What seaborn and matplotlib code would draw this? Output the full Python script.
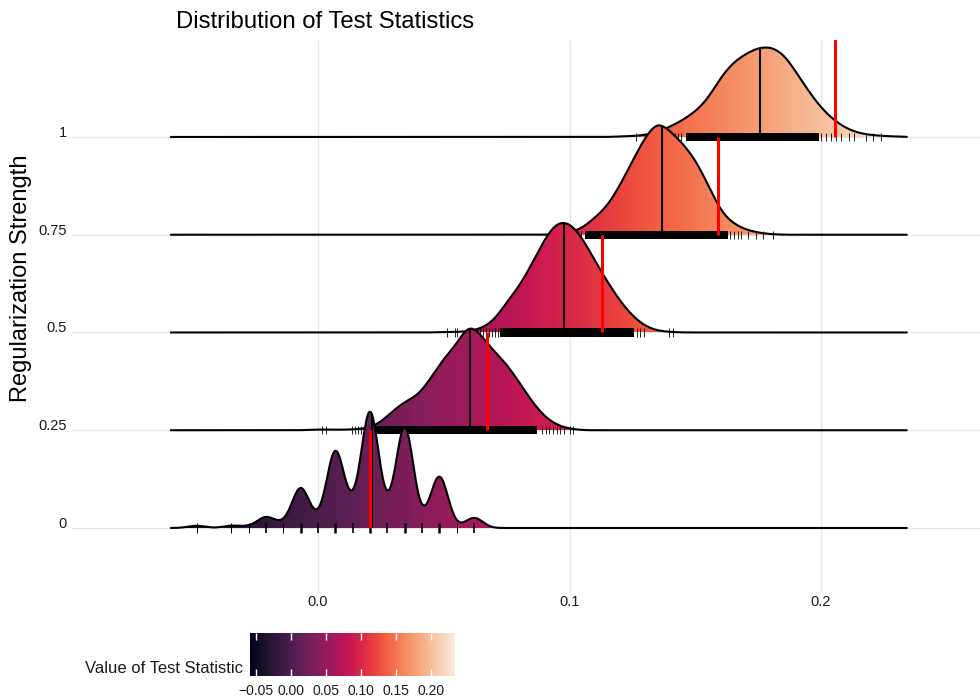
import matplotlib.pyplot as plt
import numpy as np
import seaborn as sns
from matplotlib.cm import ScalarMappable
from matplotlib.colors import Normalize

sns.set_theme(style="white")
plt.rcParams["font.family"] = ["Liberation Sans", "DejaVu Sans"]

# regularization strengths (one ridge each)
lambdas = [0, 0.25, 0.5, 0.75, 1]
lambda_labels = ["0", "0.25", "0.5", "0.75", "1"]

# lambda = 0: the statistic only takes a few discrete values
vals_0 = [-0.0483, -0.0345, -0.0276, -0.0207, -0.0138, -0.0069, 0.0, 0.0069,
          0.0138, 0.0207, 0.0276, 0.0345, 0.0414, 0.0483, 0.0552, 0.0621]
freq_0 = [5, 5, 3, 24, 8, 89, 12, 171, 33, 259, 24, 226, 11, 116, 1, 23]

# other lambdas: binned samples (bin centre, relative frequency)
vals_25 = [0.000, 0.005, 0.010, 0.015, 0.020, 0.025, 0.030, 0.035, 0.040, 0.045, 0.050,
           0.055, 0.060, 0.065, 0.070, 0.075, 0.080, 0.085, 0.090, 0.095, 0.100]
freq_25 = [1, 0.5, 0.5, 1, 2, 8, 21, 31, 36, 55, 76, 88, 115, 99, 82, 70, 50, 30, 14, 5, 1.5]

vals_50 = [0.050, 0.055, 0.060, 0.065, 0.070, 0.075, 0.080, 0.085, 0.090, 0.095,
           0.100, 0.105, 0.110, 0.115, 0.120, 0.125, 0.130, 0.135, 0.140]
freq_50 = [0.5, 0.5, 1, 4, 11, 30, 45, 67, 92, 110, 109, 94, 71, 50, 31, 16, 6, 1.5, 0.5]

vals_75 = [0.095, 0.100, 0.105, 0.110, 0.115, 0.120, 0.125, 0.130, 0.135,
           0.140, 0.145, 0.150, 0.155, 0.160, 0.165, 0.170, 0.175, 0.180]
freq_75 = [0.5, 2, 6, 17, 28, 49, 74, 98, 116, 104, 92, 76, 51, 23, 11, 5, 2, 0.5]

vals_100 = [0.120, 0.125, 0.130, 0.135, 0.140, 0.145, 0.150, 0.155, 0.160, 0.165, 0.170, 0.175,
            0.180, 0.185, 0.190, 0.195, 0.200, 0.205, 0.210, 0.215, 0.220, 0.225, 0.230]
freq_100 = [0.5, 1, 2, 5, 11, 18, 27, 40, 64, 80, 89, 96, 97, 90, 70, 49, 31, 18, 9, 4, 2, 1, 0.5]

# rug: range where the samples are dense, plus the isolated ones
rug_band = [None, (0.022, 0.087), (0.0725, 0.1255), (0.106, 0.163), (0.1465, 0.199)]
rug_ticks = [
    vals_0,
    [0.0016, 0.0032, 0.0135, 0.0148, 0.0160, 0.0172, 0.0183, 0.0198, 0.0208,
     0.0890, 0.0905, 0.0920, 0.0935, 0.0950, 0.0962, 0.0980, 0.1003, 0.1012],
    [0.0513, 0.0546, 0.0552, 0.0632, 0.0645, 0.0658, 0.0668, 0.0680, 0.0690, 0.0705, 0.0715,
     0.1270, 0.1280, 0.1295, 0.1394, 0.1410],
    [0.1020, 0.1035, 0.1045, 0.1640, 0.1655, 0.1670, 0.1680, 0.1710, 0.1740, 0.1770, 0.1810],
    [0.1263, 0.1400, 0.1420, 0.1432, 0.1445, 0.2000, 0.2020, 0.2040, 0.2060, 0.2080,
     0.2110, 0.2130, 0.2180, 0.2207, 0.2239],
]

# observed value of the statistic for each lambda
observed = [0.0207, 0.0672, 0.1129, 0.1590, 0.2056]

samples = [(vals_0, freq_0), (vals_25, freq_25), (vals_50, freq_50),
           (vals_75, freq_75), (vals_100, freq_100)]

bw = 0.0034          # joint bandwidth
ridge_scale = 1.19   # tallest ridge relative to the row spacing
spacing = 0.25
rug_half = 0.0105

all_x = np.concatenate([np.asarray(t) for t in rug_ticks])
x_lo, x_hi = all_x.min() - 3 * bw, all_x.max() + 3 * bw
grid = np.linspace(x_lo, x_hi, 800)


def kde(vals, freq):
    v = np.asarray(vals)[:, None]
    w = np.asarray(freq, float)[:, None]
    d = (w * np.exp(-0.5 * ((grid - v) / bw) ** 2)).sum(0)
    return d / (w.sum() * bw * np.sqrt(2 * np.pi))


dens = [kde(v, f) for v, f in samples]
top = max(d.max() for d in dens)
heights = [d * ridge_scale * spacing / top for d in dens]

cmap = sns.color_palette("rocket", as_cmap=True)
norm = Normalize(x_lo, x_hi)

fig = plt.figure(figsize=(9.8, 7), dpi=100)
ax = fig.add_axes([72 / 980, 1 - 592 / 700, 908 / 980, 552 / 700])

ramp = np.linspace(x_lo, x_hi, 600)[None, :]
n = len(lambdas)
for i in range(n - 1, -1, -1):
    lam = lambdas[i]
    h = heights[i]
    z = 2 + 5 * (n - 1 - i)
    poly = ax.fill_between(grid, lam, lam + h, facecolor="none", lw=0, zorder=z)
    im = ax.imshow(ramp, extent=[x_lo, x_hi, lam, lam + h.max()], origin="lower",
                   aspect="auto", cmap=cmap, norm=norm, zorder=z + 0.1)
    im.set_clip_path(poly.get_paths()[0], transform=ax.transData)
    sns.lineplot(x=grid, y=lam + h, ax=ax, color="black", lw=1.5, sort=False,
                 estimator=None, zorder=z + 0.2)
    # median from the density
    cdf = np.cumsum(dens[i])
    cdf /= cdf[-1]
    med = np.interp(0.5, cdf, grid)
    ax.plot([med, med], [lam, lam + np.interp(med, grid, h)], color="black",
            lw=1.5, zorder=z + 0.3, solid_capstyle="butt")
    # rug
    if rug_band[i] is not None:
        lo, hi = rug_band[i]
        ax.fill_between([lo, hi], lam - rug_half, lam + rug_half, color="black",
                        lw=0, zorder=z + 0.4)
        ax.vlines(rug_ticks[i], lam - rug_half, lam + rug_half, color="black",
                  lw=0.6, zorder=z + 0.4)
    else:
        f = np.asarray(freq_0)
        ax.vlines(rug_ticks[i], lam - 0.0128, lam + 0.0128, color="black",
                  lw=np.where(f >= 80, 1.8, np.where(f >= 10, 1.2, 0.7)), zorder=z + 0.4)

ax.vlines(observed, lambdas, np.asarray(lambdas) + spacing, color="red", lw=2.2, zorder=60)

ax.set_xlim(-0.0978, 0.2632)
ax.set_ylim(-0.1637, 1.248)
ax.set_xticks([0.0, 0.1, 0.2])
ax.set_xticklabels(["0.0", "0.1", "0.2"])
ax.set_yticks(lambdas)
ax.set_yticklabels(lambda_labels)
for lab in ax.get_yticklabels():
    lab.set_va("baseline")
ax.tick_params(axis="x", length=0, pad=2, labelsize=10.5, colors="#1a1a1a")
ax.tick_params(axis="y", length=0, pad=3.6, labelsize=10.5, colors="#1a1a1a")
ax.set_axisbelow(True)
ax.grid(True, color="#E6E6E6", lw=0.9)
for s in ax.spines.values():
    s.set_visible(False)
ax.set_xlabel("")
ax.set_ylabel("")

fig.text(176 / 980, 1 - 28.5 / 700, "Distribution of Test Statistics", fontsize=17.2,
         va="baseline", ha="left", color="black")
fig.text(21.5 / 980, 1 - 278 / 700, "Regularization Strength", fontsize=17,
         rotation=90, va="center", ha="center", color="black")

# colour bar legend
cb_ticks = [-0.05, 0.0, 0.05, 0.10, 0.15, 0.20]
cax = fig.add_axes([250 / 980, 1 - 676 / 700, 205 / 980, 43 / 700])
cb = fig.colorbar(ScalarMappable(norm=norm, cmap=cmap), cax=cax, orientation="horizontal")
cb.set_ticks(cb_ticks)
cb.set_ticklabels(["\u22120.05", "0.00", "0.05", "0.10", "0.15", "0.20"])
cb.minorticks_off()
cb.outline.set_visible(False)
cax.tick_params(length=0, labelsize=10, pad=6, labelcolor="#1a1a1a")
cax.vlines(cb_ticks, 0, 0.17, color="white", lw=1)
cax.vlines(cb_ticks, 0.83, 1, color="white", lw=1)
cax.set_ylim(0, 1)
fig.text(243 / 980, 1 - 673 / 700, "Value of Test Statistic", fontsize=12,
         va="baseline", ha="right", color="#1a1a1a")

fig.savefig("out.png", dpi=100)
